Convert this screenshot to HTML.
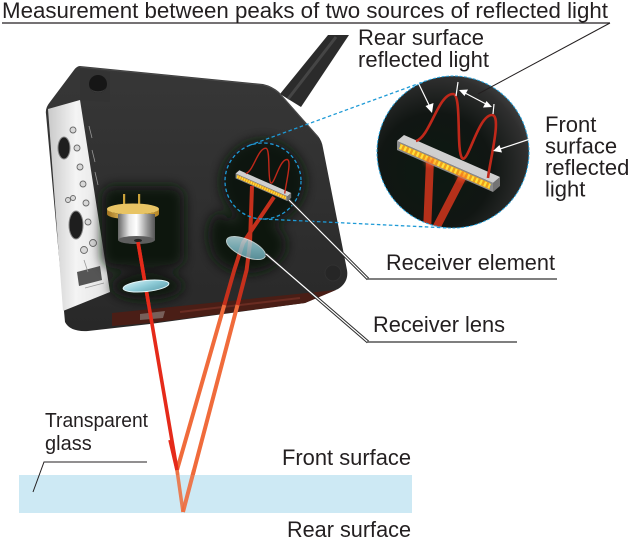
<!DOCTYPE html>
<html><head><meta charset="utf-8">
<style>
html,body{margin:0;padding:0;background:#fff;}
svg{display:block;}
text{font-family:"Liberation Sans",Arial,sans-serif;fill:#231f20;font-size:22px;}
</style></head><body>
<svg width="640" height="550" viewBox="0 0 640 550" xmlns="http://www.w3.org/2000/svg">
<defs>
  <linearGradient id="bodyg" x1="0" y1="0" x2="0" y2="1">
    <stop offset="0" stop-color="#373737"/><stop offset="1" stop-color="#282828"/>
  </linearGradient>
  <linearGradient id="panelg" x1="0" y1="0" x2="1" y2="0">
    <stop offset="0" stop-color="#c9c9c9"/><stop offset="0.45" stop-color="#f4f4f4"/><stop offset="1" stop-color="#e2e2e2"/>
  </linearGradient>
  <linearGradient id="cang" x1="0" y1="0" x2="1" y2="0">
    <stop offset="0" stop-color="#666"/><stop offset="0.3" stop-color="#e6e6e6"/><stop offset="0.5" stop-color="#fff"/><stop offset="0.78" stop-color="#9a9a9a"/><stop offset="1" stop-color="#555"/>
  </linearGradient>
  <linearGradient id="goldg" x1="0" y1="0" x2="1" y2="0">
    <stop offset="0" stop-color="#a47420"/><stop offset="0.4" stop-color="#f2d274"/><stop offset="1" stop-color="#b58524"/>
  </linearGradient>
  <linearGradient id="lensg" x1="0" y1="0" x2="1" y2="1">
    <stop offset="0" stop-color="#d6f2f7"/><stop offset="0.5" stop-color="#8ccad6"/><stop offset="1" stop-color="#5e9fae"/>
  </linearGradient>
  <radialGradient id="bcg" cx="0.38" cy="0.62" r="0.75">
    <stop offset="0" stop-color="#0c1911"/><stop offset="0.5" stop-color="#111613"/><stop offset="0.82" stop-color="#2f2f2f"/><stop offset="1" stop-color="#4f4f4f"/>
  </radialGradient>
  <filter id="blur" x="-50%" y="-50%" width="200%" height="200%"><feGaussianBlur stdDeviation="6"/></filter>
  <filter id="blur2" x="-50%" y="-50%" width="200%" height="200%"><feGaussianBlur stdDeviation="2"/></filter>
  <clipPath id="bigclip"><circle cx="453" cy="152" r="76"/></clipPath>
  <g id="det">
    <!-- bar -->
    <polygon points="404,135 500,177 493,183 397,141" fill="#cfcfcf"/>
    <polygon points="397,141 493,183 493,192 397,150" fill="#8c8c8c"/>
    <polygon points="500,177 500,186 493,192 493,183" fill="#747474"/>
    <polygon points="400,143.5 490,183 490,189.5 400,149.5" fill="#eea01c"/>
    <line x1="400" y1="146.5" x2="490" y2="186.3" stroke="#ffe23c" stroke-width="5" stroke-dasharray="2.2 2.4"/>
    <!-- wave -->
    <path d="M416,141 C430,137 438,94 453,94 C462,94 456,150 462,158 C468,165 478,115 492,115 C502,115 490,160 488,178" fill="none" stroke="#c0281a" stroke-width="2.6"/>
  </g>
</defs>

<!-- heading -->
<text x="2" y="18" textLength="606" lengthAdjust="spacingAndGlyphs">Measurement between peaks of two sources of reflected light</text>
<line x1="2" y1="23" x2="610" y2="23" stroke="#231f20" stroke-width="1.2"/>

<!-- cable -->
<polygon points="328,35 349,35 301,107 280,94" fill="#2b2b2b"/>
<line x1="336" y1="37" x2="288" y2="99" stroke="#4c4c4c" stroke-width="3" opacity="0.8"/>

<!-- body -->
<path d="M80,66 L263,84 Q272,86 279,92 L318,136 Q322,141 323,148 L347,270 Q349,282 338,289 L305,303 L150,324 L88,331 Q70,332 65,322 L46,114 Q45,108 50,102 L74,70 Q77,66 80,66 Z" fill="url(#bodyg)"/>
<path d="M80,67 L263,85 Q272,87 279,93 L318,137" fill="none" stroke="#4a4a4a" stroke-width="1"/>
<!-- bottom window band -->
<polygon points="112,313 336,290 305,303 150,323 112,326" fill="#4a1e16"/>
<polygon points="140,314 165,311 163,318 140,320" fill="#8a7a76" opacity="0.7"/>
<line x1="180" y1="312" x2="300" y2="298" stroke="#6a2c22" stroke-width="2"/>
<!-- tab -->
<path d="M80,68 L110,72 L110,102 L80,100 Z" fill="#333"/>
<circle cx="98" cy="84" r="9" fill="#161616"/>
<path d="M90,88 A9,9 0 0 0 106,88 A9,6 0 0 1 90,88 Z" fill="#3a3a3a"/>
<!-- screw -->
<circle cx="333" cy="273" r="8" fill="#262626" stroke="#313131"/>

<!-- side panel -->
<polygon points="48,109 80,100 110,292 63,311" fill="url(#panelg)"/>
<ellipse cx="64" cy="148" rx="6" ry="11" fill="#1e1e1e" stroke="#888" stroke-width="1"/>
<ellipse cx="76" cy="225" rx="7" ry="14" fill="#1e1e1e" stroke="#888" stroke-width="1"/>
<g fill="#d8d8d8" stroke="#6a6a6a" stroke-width="0.9">
  <circle cx="73" cy="130" r="3"/><circle cx="77" cy="148" r="3"/><circle cx="80" cy="167" r="3"/>
  <circle cx="83" cy="184" r="3"/><circle cx="86" cy="203" r="3"/><circle cx="88" cy="222" r="3"/>
  <circle cx="68" cy="200" r="2.5"/><circle cx="73" cy="198" r="2.5"/>
  <circle cx="84" cy="250" r="3.5"/><circle cx="93" cy="243" r="3.5"/>
</g>
<polygon points="77,272 100,266 102,280 79,286" fill="#555"/>
<g stroke="#999" stroke-width="0.8">
  <line x1="89" y1="126" x2="92" y2="138"/><line x1="92" y1="150" x2="95" y2="162"/><line x1="95" y1="172" x2="98" y2="185"/>
  <line x1="85" y1="288" x2="104" y2="283"/><line x1="84" y1="260" x2="88" y2="272"/>
</g>

<!-- glows -->
<g fill="#0a1910" filter="url(#blur)">
  <rect x="102" y="186" width="82" height="82" rx="12"/>
  <ellipse cx="147" cy="286" rx="36" ry="14"/>
  <ellipse cx="263" cy="182" rx="42" ry="42"/>
  <ellipse cx="248" cy="245" rx="38" ry="28"/>
  <ellipse cx="220" cy="235" rx="12" ry="22"/>
</g>

<!-- small circle detail -->
<circle cx="263" cy="181" r="38" fill="#0e1611" opacity="0.6"/>

<!-- beams -->
<g fill="none" stroke-linecap="butt" stroke-linejoin="round">
  <path d="M274,197 L243,243 L234.3,270 L224.3,305" stroke="#c5301c" stroke-width="4"/>
  <path d="M224.3,305 L177,470" stroke="#f06b3b" stroke-width="4"/>
  <path d="M252,186 L250,243 L246.6,270 L237.5,305" stroke="#c5301c" stroke-width="4"/>
  <path d="M237.5,305 L183,512" stroke="#f06b3b" stroke-width="4"/>
  <path d="M177,470 L183,512" stroke="#ec7446" stroke-width="3.5"/>
  <path d="M138,242 L177,470" stroke="#e52a1a" stroke-width="3.6"/>
</g>

<use href="#det" transform="translate(21.2,97.4) scale(0.54)"/>

<!-- laser diode -->
<rect x="123" y="194" width="2.2" height="15" fill="#caa23a"/>
<rect x="138" y="194" width="2.2" height="15" fill="#caa23a"/>
<path d="M107,209 A26,5.5 0 0 0 159,209 L159,214 A26,5.5 0 0 1 107,214 Z" fill="url(#goldg)"/>
<ellipse cx="133" cy="209" rx="26" ry="5.5" fill="#e8c464"/>
<rect x="118" y="214" width="37" height="26" fill="url(#cang)"/>
<ellipse cx="136.5" cy="240" rx="18.5" ry="4" fill="#5e5e5e"/>
<ellipse cx="138" cy="240.5" rx="4" ry="1.6" fill="#222"/>
<path d="M138,242 L148.8,305" stroke="#e52a1a" stroke-width="3.6"/>

<!-- lenses -->
<ellipse cx="146" cy="286" rx="23" ry="5.5" transform="rotate(-6 146 286)" fill="url(#lensg)" stroke="#e4f6f9" stroke-width="1"/>
<ellipse cx="246" cy="248" rx="21" ry="8.5" transform="rotate(24 246 248)" fill="url(#lensg)" opacity="0.8" stroke="#e4f6f9" stroke-width="1"/>

<!-- small dashed circle -->
<circle cx="263" cy="181" r="38" fill="none" stroke="#1e9ad6" stroke-width="1.3" stroke-dasharray="3.5 2.5"/>

<!-- connectors dashed -->
<line x1="249" y1="145.5" x2="425.6" y2="81" stroke="#1e9ad6" stroke-width="1.3" stroke-dasharray="3.5 2.5"/>
<line x1="263" y1="219" x2="449" y2="228" stroke="#1e9ad6" stroke-width="1.3" stroke-dasharray="3.5 2.5"/>

<!-- big circle -->
<circle cx="453" cy="152" r="76" fill="url(#bcg)"/>
<g clip-path="url(#bigclip)">
  <line x1="427" y1="232" x2="430" y2="160" stroke="#b5301a" stroke-width="8"/>
  <line x1="434" y1="232" x2="463" y2="176" stroke="#b5301a" stroke-width="8"/>
</g>
<use href="#det"/>
<ellipse cx="430" cy="162" rx="5" ry="4" fill="#ff5a22" opacity="0.6" filter="url(#blur2)"/>
<ellipse cx="462" cy="177" rx="5" ry="4" fill="#ff5a22" opacity="0.6" filter="url(#blur2)"/>
<circle cx="453" cy="152" r="76" fill="none" stroke="#2aa5de" stroke-width="1" stroke-dasharray="3 1.5"/>

<!-- white arrows in big circle -->
<g stroke="#fff" stroke-width="1.2" fill="none">
  <line x1="413" y1="72" x2="430" y2="107"/>
  <line x1="542" y1="135" x2="500" y2="149"/>
  <line x1="465" y1="93" x2="486" y2="104"/>
  <line x1="458" y1="82" x2="456" y2="96"/>
  <line x1="494" y1="104" x2="493" y2="114"/>
</g>
<g fill="#fff">
  <polygon points="432,113 425.5,106 433.5,103"/>
  <polygon points="493,151 499.5,145 502,152.5"/>
  <polygon points="459,90 468,89.5 464.5,96"/>
  <polygon points="492,107 483,107.5 486.5,101"/>
</g>

<!-- leader from heading -->
<line x1="610" y1="23" x2="478" y2="94" stroke="#231f20" stroke-width="1"/>

<!-- receiver leaders -->
<path d="M289,200 L368,279" stroke="#2b2b2b" stroke-width="3.2" fill="none"/>
<path d="M289,200 L368,279" stroke="#fff" stroke-width="1.2" fill="none"/>
<line x1="367" y1="279" x2="557" y2="279" stroke="#555" stroke-width="1.4"/>
<path d="M266,254 L368,342" stroke="#2b2b2b" stroke-width="3.2" fill="none"/>
<path d="M266,254 L368,342" stroke="#fff" stroke-width="1.2" fill="none"/>
<line x1="367" y1="342" x2="517" y2="342" stroke="#555" stroke-width="1.4"/>

<!-- glass -->
<rect x="19" y="475" width="393" height="38" fill="#cde9f4"/>
<path d="M177,470 L183,512" stroke="#ec7446" stroke-width="3.5" opacity="0.9"/>
<path d="M183,512 L194,470" stroke="#f06b3b" stroke-width="4" opacity="0.9"/>
<path d="M170,440 L177,470" stroke="#e52a1a" stroke-width="3.6"/>

<!-- glass leader -->
<path d="M147,462 L44,462 L33,492" fill="none" stroke="#231f20" stroke-width="1"/>

<!-- labels -->
<text x="358" y="45" textLength="126" lengthAdjust="spacingAndGlyphs">Rear surface</text>
<text x="358" y="67" textLength="131" lengthAdjust="spacingAndGlyphs">reflected light</text>
<text x="545" y="132">Front</text>
<text x="545" y="153.5">surface</text>
<text x="545" y="175">reflected</text>
<text x="545" y="196.5">light</text>
<text x="386" y="270" textLength="169" lengthAdjust="spacingAndGlyphs">Receiver element</text>
<text x="373" y="332" textLength="132" lengthAdjust="spacingAndGlyphs">Receiver lens</text>
<text x="45" y="427" style="font-size:20px" textLength="103" lengthAdjust="spacingAndGlyphs">Transparent</text>
<text x="45" y="450" style="font-size:20px">glass</text>
<text x="282" y="465" textLength="129" lengthAdjust="spacingAndGlyphs">Front surface</text>
<text x="287" y="537" textLength="124" lengthAdjust="spacingAndGlyphs">Rear surface</text>
</svg>
</body></html>
